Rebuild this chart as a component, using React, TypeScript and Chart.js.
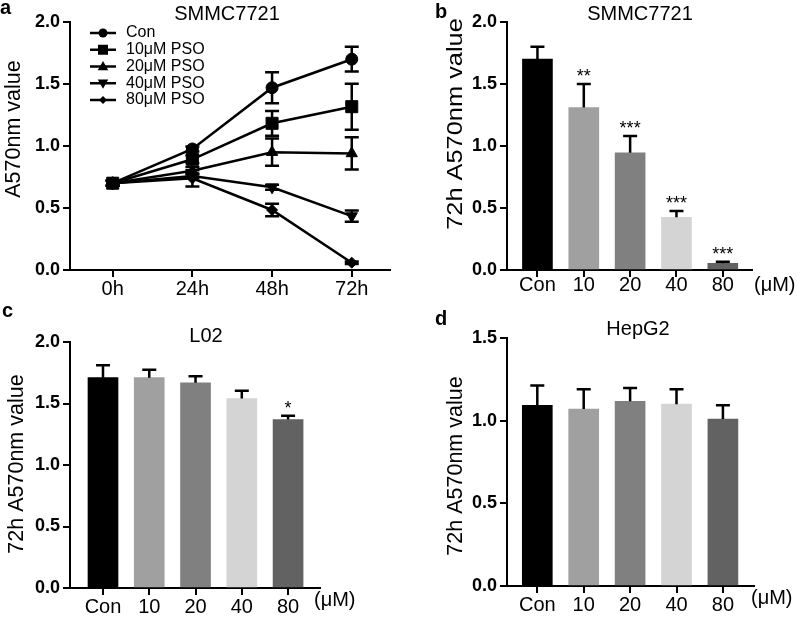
import React, { useEffect, useRef } from 'react';
import { Chart, registerables } from 'chart.js';

Chart.register(...registerables);

const FONT = "'Liberation Sans', Arial, Helvetica, sans-serif";

// ---------- Panel a: time course, SMMC7721 ----------
const timeLabels = ['0h', '24h', '48h', '72h'];
const seriesNames = ['Con', '10μM PSO', '20μM PSO', '40μM PSO', '80μM PSO'];
const conMean = [0.70, 0.976, 1.47, 1.70];
const conErr = [0.02, 0.02, 0.125, 0.10];
const pso10Mean = [0.70, 0.893, 1.183, 1.317];
const pso10Err = [0.02, 0.03, 0.10, 0.185];
const pso20Mean = [0.70, 0.80, 0.95, 0.94];
const pso20Err = [0.02, 0.03, 0.11, 0.13];
const pso40Mean = [0.70, 0.758, 0.667, 0.435];
const pso40Err = [0.02, 0.02, 0.02, 0.045];
const pso80Mean = [0.70, 0.739, 0.484, 0.059];
const pso80Err = [0.02, 0.065, 0.05, 0.01];
const seriesStyles = ['circle', 'rect', 'triangle', 'triangleDown', 'diamond'];

// ---------- Bar panels ----------
const doseLabels = ['Con', '10', '20', '40', '80'];
const barColors = ['#000000', '#a0a0a0', '#808080', '#d4d4d4', '#626262'];

const smmcMean = [1.70, 1.31, 0.945, 0.425, 0.054];
const smmcErr = [0.10, 0.19, 0.135, 0.05, 0.013];
const smmcStars = ['', '**', '***', '***', '***'];

const l02Mean = [1.71, 1.71, 1.668, 1.54, 1.37];
const l02Err = [0.10, 0.065, 0.054, 0.063, 0.03];
const l02Stars = ['', '', '', '', '*'];

const hepg2Mean = [1.093, 1.07, 1.117, 1.10, 1.01];
const hepg2Err = [0.12, 0.12, 0.08, 0.09, 0.083];
const hepg2Stars = ['', '', '', '', ''];

type TextItem = {
  text: string;
  x: number;
  y: number;
  font: string;
  align?: CanvasTextAlign;
  baseline?: CanvasTextBaseline;
  rotate?: boolean;
  stretch?: number;
};

function drawTexts(ctx: CanvasRenderingContext2D, items: TextItem[]) {
  for (const t of items) {
    ctx.save();
    ctx.fillStyle = '#000';
    ctx.font = t.font;
    ctx.textAlign = t.align || 'left';
    ctx.textBaseline = t.baseline || 'alphabetic';
    ctx.translate(t.x, t.y);
    if (t.rotate) ctx.rotate(-Math.PI / 2);
    if (t.stretch) ctx.scale(t.stretch, 1);
    ctx.fillText(t.text, 0, 0);
    ctx.restore();
  }
}

function drawMarker(ctx: CanvasRenderingContext2D, style: string, x: number, y: number, r: number) {
  ctx.beginPath();
  switch (style) {
    case 'circle':
      ctx.arc(x, y, r, 0, Math.PI * 2);
      break;
    case 'rect':
      ctx.rect(x - r, y - r, 2 * r, 2 * r);
      break;
    case 'triangle':
      ctx.moveTo(x, y - r * 1.1);
      ctx.lineTo(x + r * 1.05, y + r * 0.75);
      ctx.lineTo(x - r * 1.05, y + r * 0.75);
      ctx.closePath();
      break;
    case 'triangleDown':
      ctx.moveTo(x, y + r * 1.1);
      ctx.lineTo(x + r * 1.05, y - r * 0.75);
      ctx.lineTo(x - r * 1.05, y - r * 0.75);
      ctx.closePath();
      break;
    case 'diamond':
      ctx.moveTo(x, y - r);
      ctx.lineTo(x + r, y);
      ctx.lineTo(x, y + r);
      ctx.lineTo(x - r, y);
      ctx.closePath();
      break;
  }
  ctx.fill();
}

type Geometry = {
  w: number;
  h: number;
  left: number;
  top: number;
  right: number;
  bottom: number;
};

function axisOptions(g: Geometry, labels: string[], xmin: number, xmax: number, ymax: number, xPad: number) {
  return {
    x: {
      type: 'linear',
      offset: false,
      min: xmin,
      max: xmax,
      afterBuildTicks: (s: any) => {
        s.ticks = labels.map((_, i) => ({ value: i }));
      },
      afterFit: (s: any) => {
        s.height = g.h - g.bottom;
        s.paddingLeft = 0;
        s.paddingRight = 0;
      },
      ticks: {
        autoSkip: false,
        maxRotation: 0,
        padding: xPad,
        color: '#000',
        font: { family: FONT, size: 20 },
        callback: (v: any) => labels[Math.round(Number(v))] ?? '',
      },
      grid: { offset: false, drawOnChartArea: false, drawTicks: true, tickLength: 7, color: '#000', lineWidth: 2 },
      border: { display: true, color: '#000', width: 2 },
    },
    y: {
      type: 'linear',
      min: 0,
      max: ymax,
      afterFit: (s: any) => {
        s.width = g.left;
      },
      ticks: {
        stepSize: 0.5,
        padding: 3,
        color: '#000',
        font: { family: FONT, size: 18, weight: 'bold' },
        callback: (v: any) => Number(v).toFixed(1),
      },
      grid: { drawOnChartArea: false, drawTicks: true, tickLength: 7, color: '#000', lineWidth: 2 },
      border: { display: true, color: '#000', width: 2 },
    },
  };
}

function baseOptions(g: Geometry, scales: any) {
  return {
    responsive: false,
    animation: false,
    devicePixelRatio: 1,
    layout: { padding: { left: 0, top: g.top, right: g.w - g.right, bottom: 0 } },
    plugins: { legend: { display: false }, tooltip: { enabled: false }, title: { display: false } },
    scales,
  };
}

// ---------- Panel a config ----------
function buildLineConfig(): any {
  const g: Geometry = { w: 400, h: 300, left: 70, top: 22, right: 390, bottom: 270 };
  const means = [conMean, pso10Mean, pso20Mean, pso40Mean, pso80Mean];
  const errs = [conErr, pso10Err, pso20Err, pso40Err, pso80Err];
  const radii = [6, 8.5, 6.5, 6.5, 5.5];
  const datasets = means.map((m, k) => {
    const st = seriesStyles[k];
    const ps = st === 'triangleDown' ? 'triangle' : st === 'diamond' ? 'rectRot' : st;
    return {
      label: seriesNames[k],
      data: m.map((v, i) => ({ x: i, y: v })),
      borderColor: '#000',
      borderWidth: 2.5,
      backgroundColor: '#000',
      pointBackgroundColor: '#000',
      pointBorderColor: '#000',
      pointBorderWidth: 1,
      pointStyle: ps,
      pointRotation: st === 'triangleDown' ? 180 : 0,
      pointRadius: radii[k],
      tension: 0,
      clip: false,
      fill: false,
    };
  });
  const plugin = {
    id: 'panelA',
    beforeDatasetsDraw(chart: any) {
      const ctx = chart.ctx as CanvasRenderingContext2D;
      const xs = chart.scales.x;
      const ys = chart.scales.y;
      ctx.save();
      ctx.strokeStyle = '#000';
      ctx.lineWidth = 2.5;
      means.forEach((m, k) => {
        m.forEach((v, i) => {
          const e = errs[k][i];
          const x = xs.getPixelForValue(i);
          const yt = ys.getPixelForValue(v + e);
          const yb = ys.getPixelForValue(v - e);
          ctx.beginPath();
          ctx.moveTo(x, yt);
          ctx.lineTo(x, yb);
          ctx.moveTo(x - 7, yt);
          ctx.lineTo(x + 7, yt);
          ctx.moveTo(x - 7, yb);
          ctx.lineTo(x + 7, yb);
          ctx.stroke();
        });
      });
      ctx.restore();
    },
    afterDraw(chart: any) {
      const ctx = chart.ctx as CanvasRenderingContext2D;
      ctx.save();
      ctx.strokeStyle = '#000';
      ctx.fillStyle = '#000';
      ctx.lineWidth = 2.5;
      const lr = [4.5, 5, 5, 5, 4];
      seriesNames.forEach((name, k) => {
        const y = 33 + k * 16.75;
        ctx.beginPath();
        ctx.moveTo(90, y);
        ctx.lineTo(116, y);
        ctx.stroke();
        drawMarker(ctx, seriesStyles[k], 103, y, lr[k]);
      });
      ctx.restore();
      drawTexts(
        ctx,
        seriesNames.map((name, k) => ({
          text: name,
          x: 126,
          y: 33 + k * 16.75,
          font: `16px ${FONT}`,
          baseline: 'middle' as CanvasTextBaseline,
        }))
      );
      drawTexts(ctx, [
        { text: 'a', x: 0, y: 14, font: `bold 20px ${FONT}` },
        { text: 'SMMC7721', x: 227, y: 20, font: `20px ${FONT}`, align: 'center' },
        { text: 'A570nm value', x: 14, y: 129, font: `21.5px ${FONT}`, align: 'center', baseline: 'middle', rotate: true },
      ]);
    },
  };
  return {
    type: 'line',
    data: { datasets },
    options: baseOptions(g, axisOptions(g, timeLabels, -0.536, 3.48, 2, 0)),
    plugins: [plugin],
  };
}

// ---------- Bar panel config ----------
type BarPanel = {
  g: Geometry;
  mean: number[];
  err: number[];
  stars: string[];
  xmin: number;
  xmax: number;
  ymax: number;
  xPad: number;
  letter: string;
  letterX: number;
  letterY: number;
  title: string;
  titleX: number;
  titleY: number;
  yTitleX: number;
  yTitleY: number;
  yTitleStretch: number;
  unitX: number;
  unitY: number;
};

function buildBarConfig(p: BarPanel): any {
  const plugin = {
    id: 'barExtras',
    afterDatasetsDraw(chart: any) {
      const ctx = chart.ctx as CanvasRenderingContext2D;
      const xs = chart.scales.x;
      const ys = chart.scales.y;
      ctx.save();
      ctx.strokeStyle = '#000';
      ctx.lineWidth = 2.5;
      p.mean.forEach((v, i) => {
        const x = xs.getPixelForValue(i);
        const yv = ys.getPixelForValue(v);
        const yt = ys.getPixelForValue(v + p.err[i]);
        ctx.beginPath();
        ctx.moveTo(x, yv);
        ctx.lineTo(x, yt);
        ctx.moveTo(x - 7, yt);
        ctx.lineTo(x + 7, yt);
        ctx.stroke();
        if (p.stars[i]) {
          drawTexts(ctx, [{ text: p.stars[i], x, y: yt - 2, font: `18px ${FONT}`, align: 'center' }]);
        }
      });
      ctx.restore();
    },
    afterDraw(chart: any) {
      const ctx = chart.ctx as CanvasRenderingContext2D;
      drawTexts(ctx, [
        { text: p.letter, x: p.letterX, y: p.letterY, font: `bold 20px ${FONT}` },
        { text: p.title, x: p.titleX, y: p.titleY, font: `20px ${FONT}`, align: 'center' },
        {
          text: '72h A570nm value',
          x: p.yTitleX,
          y: p.yTitleY,
          font: `21.5px ${FONT}`,
          align: 'center',
          baseline: 'middle',
          rotate: true,
          stretch: p.yTitleStretch,
        },
        { text: '(μM)', x: p.unitX, y: p.unitY, font: `20px ${FONT}`, baseline: 'middle' },
      ]);
    },
  };
  return {
    type: 'bar',
    data: {
      datasets: [
        {
          data: p.mean.map((v, i) => ({ x: i, y: v })),
          backgroundColor: barColors,
          borderWidth: 0,
          barThickness: 30,
        },
      ],
    },
    options: baseOptions(p.g, axisOptions(p.g, doseLabels, p.xmin, p.xmax, p.ymax, p.xPad)),
    plugins: [plugin],
  };
}

const panelB: BarPanel = {
  g: { w: 397, h: 300, left: 107, top: 22, right: 352, bottom: 270 },
  mean: smmcMean,
  err: smmcErr,
  stars: smmcStars,
  xmin: -0.657,
  xmax: 4.63,
  ymax: 2,
  xPad: -4,
  letter: 'b',
  letterX: 35,
  letterY: 18,
  title: 'SMMC7721',
  titleX: 240,
  titleY: 20,
  yTitleX: 56,
  yTitleY: 124,
  yTitleStretch: 1.18,
  unitX: 354,
  unitY: 285,
};

const panelC: BarPanel = {
  g: { w: 400, h: 320, left: 70, top: 42, right: 320, bottom: 288 },
  mean: l02Mean,
  err: l02Err,
  stars: l02Stars,
  xmin: -0.713,
  xmax: 4.69,
  ymax: 2,
  xPad: 0,
  letter: 'c',
  letterX: 2,
  letterY: 17,
  title: 'L02',
  titleX: 206,
  titleY: 42,
  yTitleX: 17,
  yTitleY: 164,
  yTitleStretch: 1,
  unitX: 314,
  unitY: 300,
};

const panelD: BarPanel = {
  g: { w: 397, h: 320, left: 107, top: 38, right: 354, bottom: 286 },
  mean: hepg2Mean,
  err: hepg2Err,
  stars: hepg2Stars,
  xmin: -0.653,
  xmax: 4.67,
  ymax: 1.5,
  xPad: 0,
  letter: 'd',
  letterX: 35,
  letterY: 25,
  title: 'HepG2',
  titleX: 238,
  titleY: 35,
  yTitleX: 56,
  yTitleY: 166,
  yTitleStretch: 1,
  unitX: 351,
  unitY: 298,
};

function ChartCanvas(props: { left: number; top: number; width: number; height: number; build: () => any }) {
  const ref = useRef<HTMLCanvasElement>(null);
  useEffect(() => {
    const canvas = ref.current;
    if (!canvas) return;
    const chart = new Chart(canvas, props.build());
    return () => chart.destroy();
  }, []);
  return (
    <canvas
      ref={ref}
      width={props.width}
      height={props.height}
      style={{ position: 'absolute', left: props.left, top: props.top, width: props.width, height: props.height }}
    />
  );
}

export default function App() {
  return (
    <div style={{ position: 'absolute', left: 0, top: 0, width: 797, height: 620, background: '#fff', overflow: 'hidden' }}>
      <ChartCanvas left={0} top={0} width={400} height={300} build={buildLineConfig} />
      <ChartCanvas left={400} top={0} width={397} height={300} build={() => buildBarConfig(panelB)} />
      <ChartCanvas left={0} top={300} width={400} height={320} build={() => buildBarConfig(panelC)} />
      <ChartCanvas left={400} top={300} width={397} height={320} build={() => buildBarConfig(panelD)} />
    </div>
  );
}
